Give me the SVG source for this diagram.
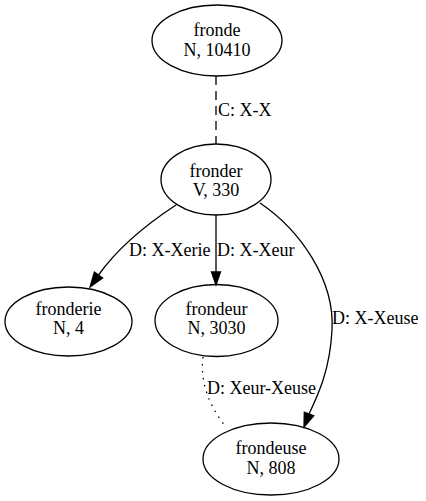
<svg xmlns="http://www.w3.org/2000/svg" width="426" height="501" viewBox="0 0 426 501">
<style>
.n ellipse{fill:none;stroke:#000;stroke-width:1.3}
text{font-family:"Liberation Serif","Times New Roman",serif;font-size:18px;fill:#000}
.n text{text-anchor:middle}
.e path{fill:none;stroke:#000;stroke-width:1.3}
.e polygon{fill:#000;stroke:#000;stroke-width:1.3}
</style>
<rect width="426" height="501" fill="#fff"/>
<g id="connectors" class="e">
<g id="e1"><path d="M216,76 L216,144" stroke-dasharray="9,6"/><text x="218" y="116">C: X-X</text></g>
<g id="e2"><path d="M176,205 C150,222 120,245 98.5,275"/><polygon points="90,287 102.6,277.9 94.4,272.1"/><text x="129" y="256">D: X-Xerie</text></g>
<g id="e3"><path d="M216,215 L216,272"/><polygon points="216,285 211.5,272 220.5,272"/><text x="217" y="256">D: X-Xeur</text></g>
<g id="e4"><path d="M260,203 C300,230 335,280 332,330 C330,370 318,395 309,414"/><polygon points="304,427 313.7,415.8 304.3,412.2"/><text x="332" y="324">D: X-Xeuse</text></g>
<g id="e5"><path d="M203,357 C200,380 208,405 226,427" stroke-dasharray="1.5,5.5"/><text x="207" y="394">D: Xeur-Xeuse</text></g>
</g>
<g id="fronde" class="n"><ellipse cx="217" cy="40.5" rx="65" ry="35.5"/><text x="217" y="36">fronde</text><text x="217" y="56">N, 10410</text></g>
<g id="fronder" class="n"><ellipse cx="216" cy="179.5" rx="55" ry="35.5"/><text x="216" y="177">fronder</text><text x="216" y="196">V, 330</text></g>
<g id="fronderie" class="n"><ellipse cx="68.5" cy="321.5" rx="63.5" ry="34.5"/><text x="68.5" y="315">fronderie</text><text x="68.5" y="334">N, 4</text></g>
<g id="frondeur" class="n"><ellipse cx="216.5" cy="320.5" rx="61.5" ry="36"/><text x="216.5" y="315">frondeur</text><text x="216.5" y="334">N, 3030</text></g>
<g id="frondeuse" class="n"><ellipse cx="271" cy="459" rx="68" ry="36"/><text x="271" y="454">frondeuse</text><text x="271" y="474">N, 808</text></g>
</svg>
